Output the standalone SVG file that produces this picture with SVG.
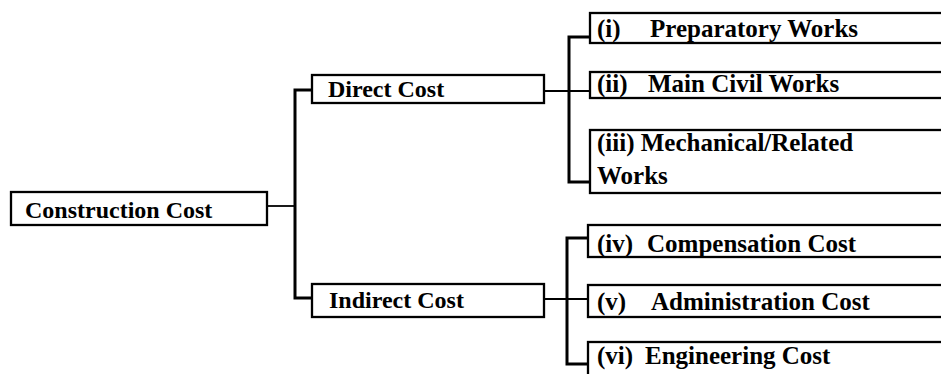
<svg xmlns="http://www.w3.org/2000/svg" width="941" height="374" viewBox="0 0 941 374">
<style>
.box{fill:#fff;stroke:#000;stroke-width:2.3}
.t{font-family:"Liberation Serif","Times New Roman",serif;font-weight:bold;font-size:24px;fill:#000}
.r{font-size:25px}
.c{fill:none;stroke:#000;stroke-width:1.8}
.trunk{fill:none;stroke:#000;stroke-width:3}
</style>
<rect width="941" height="374" fill="#fff"/>
<g id="connectors">
<line class="c" x1="267" y1="206" x2="295" y2="206"/>
<path class="trunk" d="M312 90 H295 V298 H312"/>
<line class="c" x1="544" y1="91" x2="590" y2="91"/>
<path class="trunk" d="M590 37 H569 V182 H590"/>
<line class="c" x1="544" y1="299" x2="588" y2="299"/>
<path class="trunk" d="M588 238 H567 V364 H588"/>
</g>
<g id="construction">
<rect class="box" x="11" y="192" width="256" height="33"/>
<text class="t" x="25" y="218">Construction Cost</text>
</g>
<g id="direct">
<rect class="box" x="312" y="75" width="232" height="28"/>
<text class="t" x="328" y="97">Direct Cost</text>
</g>
<g id="indirect">
<rect class="box" x="312" y="284" width="232" height="33"/>
<text class="t" x="329" y="308">Indirect Cost</text>
</g>
<g id="n1">
<rect class="box" x="590" y="13" width="360" height="30"/>
<text class="t r" x="597" y="37">(i)</text>
<text class="t r" x="650" y="37">Preparatory Works</text>
</g>
<g id="n2">
<rect class="box" x="590" y="72" width="360" height="26"/>
<text class="t r" x="597" y="92">(ii)</text>
<text class="t r" x="648" y="92">Main Civil Works</text>
</g>
<g id="n3">
<rect class="box" x="590" y="130" width="360" height="63"/>
<text class="t r" x="597" y="151">(iii) Mechanical/Related</text>
<text class="t r" x="597" y="184">Works</text>
</g>
<g id="n4">
<rect class="box" x="588" y="225" width="362" height="32"/>
<text class="t r" x="597" y="252">(iv)</text>
<text class="t r" x="647" y="252">Compensation Cost</text>
</g>
<g id="n5">
<rect class="box" x="588" y="285" width="362" height="32"/>
<text class="t r" x="597" y="310">(v)</text>
<text class="t r" x="651" y="310">Administration Cost</text>
</g>
<g id="n6">
<rect class="box" x="588" y="342" width="362" height="40"/>
<text class="t r" x="597" y="364">(vi)</text>
<text class="t r" x="645" y="364">Engineering Cost</text>
</g>
</svg>
